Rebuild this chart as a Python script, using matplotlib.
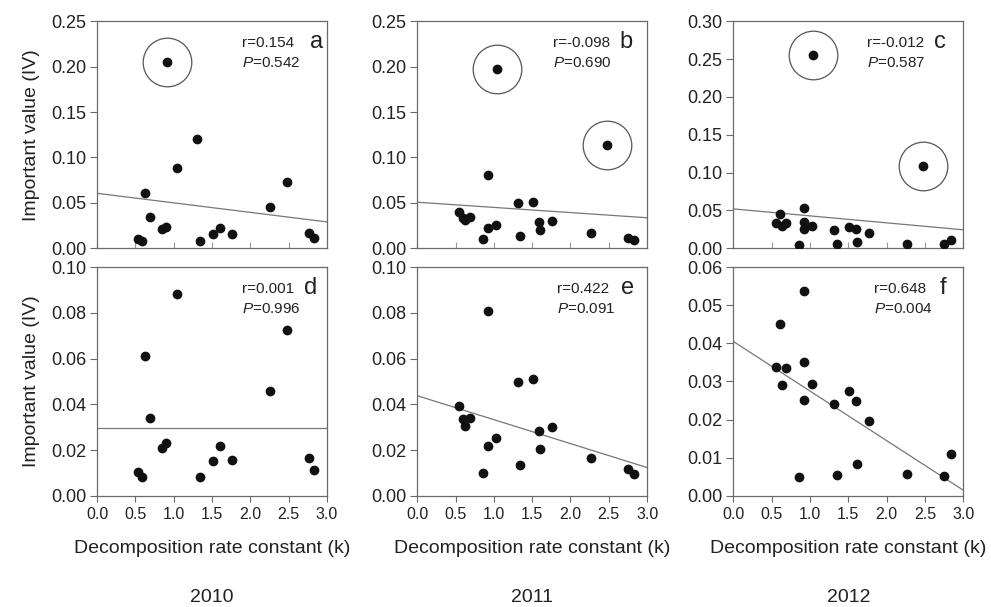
"""
Importance value vs. decomposition rate constant, 2010-2012.
Top row: all species (outliers circled), bottom row: zoomed without outliers.
"""

import numpy as np
import matplotlib.pyplot as plt
from matplotlib import font_manager

years = ['2010', '2011', '2012']

# decomposition rate constant (k) and importance value per species
k_2010 = [0.53, 0.59, 0.62, 0.685, 0.846, 0.903, 0.91, 1.04, 1.30, 1.343,
          1.51, 1.60, 1.76, 2.26, 2.48, 2.76, 2.834]
iv_2010 = [0.0105, 0.0083, 0.0612, 0.034, 0.0209, 0.0232, 0.205, 0.0882, 0.120, 0.0083,
           0.0152, 0.0219, 0.0156, 0.0457, 0.0727, 0.0166, 0.0112]

k_2011 = [0.551, 0.603, 0.624, 0.689, 0.854, 0.919, 0.919, 1.027, 1.043, 1.313,
          1.344, 1.517, 1.591, 1.600, 1.764, 2.263, 2.478, 2.753, 2.826]
iv_2011 = [0.0394, 0.0336, 0.0307, 0.0339, 0.0101, 0.0806, 0.0218, 0.0251, 0.1975, 0.0496,
           0.0136, 0.0511, 0.0285, 0.0203, 0.0302, 0.0164, 0.114, 0.0117, 0.0095]

k_2012 = [0.551, 0.611, 0.633, 0.689, 0.863, 0.919, 0.923, 0.928, 1.032, 1.045,
          1.314, 1.357, 1.513, 1.600, 1.613, 1.769, 2.263, 2.48, 2.753, 2.840]
iv_2012 = [0.0338, 0.0450, 0.0292, 0.0335, 0.0049, 0.0252, 0.0352, 0.0538, 0.0293, 0.2548,
           0.0242, 0.0055, 0.0275, 0.0250, 0.0085, 0.0197, 0.0058, 0.1085, 0.0051, 0.0110]

# circled outliers (index into the year's arrays)
outliers = [[6], [8, 16], [9, 17]]

# regression lines: intercept and slope, top row then bottom row
fit_top_b0 = [0.0605, 0.0507, 0.052]
fit_top_b1 = [-0.0105, -0.0057, -0.0092]
fit_bot_b0 = [0.0295, 0.0438, 0.0405]
fit_bot_b1 = [0.0, -0.01047, -0.0130]

r_top = ['0.154', '-0.098', '-0.012']
p_top = ['0.542', '0.690', '0.587']
r_bot = ['0.001', '0.422', '0.648']
p_bot = ['0.996', '0.091', '0.004']

letters_top = ['a', 'b', 'c']
letters_bot = ['d', 'e', 'f']

ylim_top = [0.25, 0.25, 0.30]
ystep_top = [0.05, 0.05, 0.05]
ylim_bot = [0.10, 0.10, 0.06]
ystep_bot = [0.02, 0.02, 0.01]

k_all = [k_2010, k_2011, k_2012]
iv_all = [iv_2010, iv_2011, iv_2012]

available = {f.name for f in font_manager.fontManager.ttflist}
fam = 'Liberation Sans' if 'Liberation Sans' in available else 'DejaVu Sans'
plt.rcParams['font.family'] = [fam]
plt.rcParams['mathtext.fontset'] = 'custom'
plt.rcParams['mathtext.it'] = fam + ':italic'
plt.rcParams['mathtext.rm'] = fam

TXT = '#222222'
SPINE = '#6a6a6a'

fig = plt.figure(figsize=(9.91, 6.07), dpi=100)

lefts = [0.098, 0.421, 0.740]
width = 0.232
top_row = (0.591, 0.374)
bot_row = (0.183, 0.377)

xs = np.array([0.0, 3.0])

for i in range(3):
    k = np.array(k_all[i])
    iv = np.array(iv_all[i])
    for row in range(2):
        if row == 0:
            ax = fig.add_axes([lefts[i], top_row[0], width, top_row[1]])
            mask = np.ones(len(k), dtype=bool)
            ymax, ystep = ylim_top[i], ystep_top[i]
            b0, b1 = fit_top_b0[i], fit_top_b1[i]
            rtxt, ptxt, letter = r_top[i], p_top[i], letters_top[i]
        else:
            ax = fig.add_axes([lefts[i], bot_row[0], width, bot_row[1]])
            mask = iv < ylim_bot[i]
            ymax, ystep = ylim_bot[i], ystep_bot[i]
            b0, b1 = fit_bot_b0[i], fit_bot_b1[i]
            rtxt, ptxt, letter = r_bot[i], p_bot[i], letters_bot[i]

        ax.plot(xs, b0 + b1 * xs, color='#777777', lw=0.9, zorder=1)
        ax.plot(k[mask], iv[mask], 'o', color='#111111', ms=6, zorder=3)
        if row == 0:
            for j in outliers[i]:
                ax.plot(k[j], iv[j], 'o', ms=35, mfc='none', mec='#555555', mew=0.9, zorder=2)

        ax.set_xlim(0, 3.0)
        ax.set_ylim(0, ymax)
        ax.set_xticks(np.arange(0, 3.01, 0.5))
        ax.set_yticks(np.arange(0, ymax + 1e-9, ystep))
        ax.yaxis.set_major_formatter(plt.FormatStrFormatter('%.2f'))
        for s in ax.spines.values():
            s.set_color(SPINE)
            s.set_linewidth(0.9)
        ax.tick_params(axis='y', direction='out', length=5, width=0.8, color=SPINE,
                       labelsize=13, labelcolor=TXT, pad=3)
        if row == 0:
            ax.tick_params(axis='x', direction='in', length=4, width=0.8, color='#999999',
                           labelbottom=False)
        else:
            ax.tick_params(axis='x', direction='out', length=4, width=0.8, color=SPINE,
                           labelsize=11.5, labelcolor=TXT, pad=4)
            ax.set_xlabel('Decomposition rate constant (k)', fontsize=14, color=TXT, labelpad=13)

        if i == 0:
            ax.set_ylabel('Important value (IV)', fontsize=14, color=TXT, labelpad=8)

        tx = [0.63, 0.59, 0.58][i] if row == 0 else [0.63, 0.61, 0.61][i]
        ax.text(tx, 0.905, 'r=' + rtxt, transform=ax.transAxes, fontsize=11,
                color=TXT, ha='left', va='center')
        ax.text(tx, 0.815, '$\\it{P}$=' + ptxt, transform=ax.transAxes, fontsize=11,
                color=TXT, ha='left', va='center')
        lx = [0.955, 0.91, 0.90][i] if row == 0 else [0.93, 0.915, 0.91][i]
        ax.text(lx, 0.91, letter, transform=ax.transAxes, fontsize=17,
                color=TXT, ha='center', va='center')

    fig.text(lefts[i] + width / 2, 0.015, years[i], fontsize=14, color=TXT,
             ha='center', va='center')

plt.savefig('out.png', dpi=100)
